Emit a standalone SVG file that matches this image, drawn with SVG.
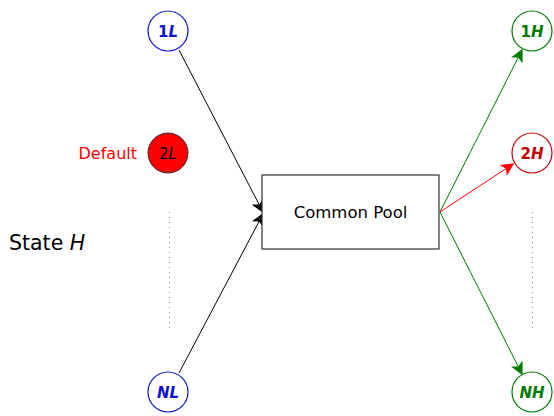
<svg xmlns="http://www.w3.org/2000/svg" width="554" height="416" viewBox="0 0 554 416">
<style>
text{font-family:"DejaVu Sans","Liberation Sans",sans-serif}
.n{fill:#fff;stroke-width:1.2}
.lbl{font-size:15px;font-weight:bold;text-anchor:middle}
.it{font-style:italic}
.dots{stroke:#888;stroke-width:1;stroke-dasharray:1 4}
</style>
<defs>
<marker id="ak" viewBox="0 0 10 10" refX="9" refY="5" markerWidth="13" markerHeight="13" markerUnits="userSpaceOnUse" orient="auto"><path d="M0,0 L10,5 L0,10 L2.5,5 Z" fill="#000"/></marker>
<marker id="ag" viewBox="0 0 10 10" refX="9" refY="5" markerWidth="13" markerHeight="13" markerUnits="userSpaceOnUse" orient="auto"><path d="M0,0 L10,5 L0,10 L2.5,5 Z" fill="#007a00"/></marker>
<marker id="ar" viewBox="0 0 10 10" refX="9" refY="5" markerWidth="13" markerHeight="13" markerUnits="userSpaceOnUse" orient="auto"><path d="M0,0 L10,5 L0,10 L2.5,5 Z" fill="#f00"/></marker>
</defs>
<g id="connectors" fill="none">
<line x1="179" y1="50" x2="263" y2="212" stroke="#000" marker-end="url(#ak)"/>
<line x1="179" y1="373" x2="263" y2="214" stroke="#000" marker-end="url(#ak)"/>
<line x1="440" y1="212" x2="522" y2="50" stroke="#007a00" marker-end="url(#ag)"/>
<line x1="440" y1="212" x2="513" y2="164" stroke="#f00" marker-end="url(#ar)"/>
<line x1="440" y1="212" x2="522" y2="374" stroke="#007a00" marker-end="url(#ag)"/>
</g>
<g id="pool"><rect x="262" y="175" width="177" height="74" fill="#fff" stroke="#333" stroke-width="1.2"/><text x="350.5" y="218" font-size="16.5" text-anchor="middle">Common Pool</text></g>
<g id="n1L"><circle cx="168" cy="31" r="20" class="n" stroke="#1010d0"/><text x="168" y="36.5" class="lbl" fill="#1010d0">1<tspan class="it">L</tspan></text></g>
<g id="n2L"><circle cx="168" cy="153" r="20" fill="#f00" stroke="#333" stroke-width="1"/><text x="168" y="158.5" font-size="15" text-anchor="middle" fill="#000">2<tspan class="it">L</tspan></text></g>
<g id="nNL"><circle cx="168" cy="392" r="20" class="n" stroke="#1010d0"/><text x="168" y="397.5" class="lbl it" fill="#1010d0">NL</text></g>
<g id="n1H"><circle cx="532" cy="31" r="20" class="n" stroke="#007a00"/><text x="532" y="36.5" class="lbl" fill="#007a00">1<tspan class="it">H</tspan></text></g>
<g id="n2H"><circle cx="532" cy="153" r="20" class="n" stroke="#c00000"/><text x="532" y="158.5" class="lbl" fill="#c00000">2<tspan class="it">H</tspan></text></g>
<g id="nNH"><circle cx="532" cy="392" r="20" class="n" stroke="#007a00"/><text x="532" y="397.5" class="lbl it" fill="#007a00">NH</text></g>
<text x="137" y="158.5" font-size="16" fill="#f00" text-anchor="end">Default</text>
<text x="9" y="250" font-size="20.5" fill="#000">State <tspan font-style="italic">H</tspan></text>
<line x1="169.5" y1="212" x2="169.5" y2="332" class="dots"/>
<line x1="532.5" y1="212" x2="532.5" y2="332" class="dots"/>
</svg>
